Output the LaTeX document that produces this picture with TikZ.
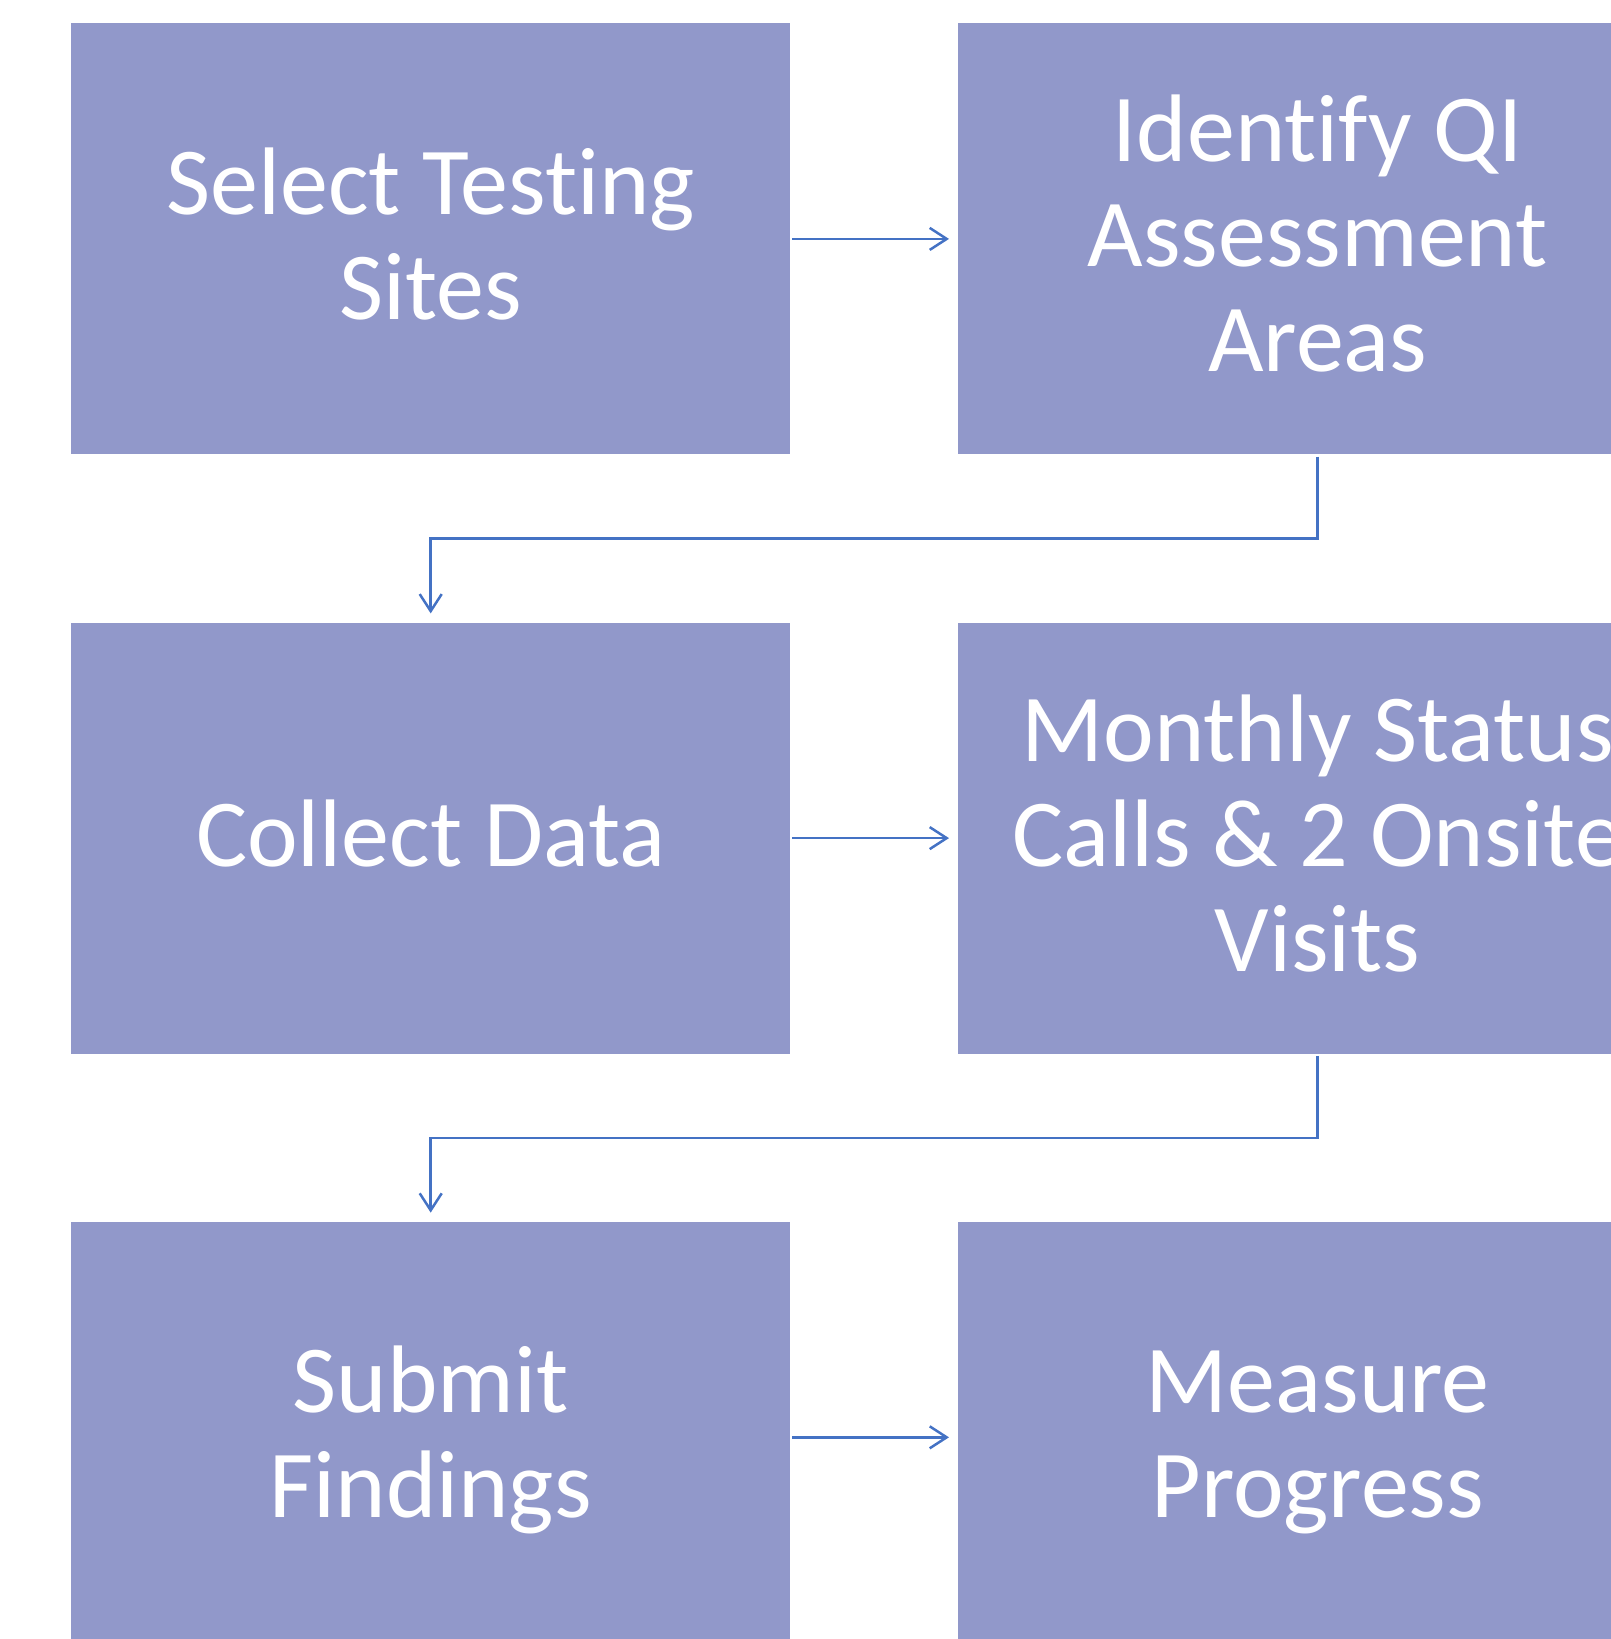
\documentclass[tikz,border=0pt]{standalone}
\usepackage{fontspec}
\setmainfont{Carlito}[Ligatures=NoCommon]
\usetikzlibrary{arrows.meta,matrix}

\definecolor{stagefill}{RGB}{145,152,202}
\definecolor{flowblue}{RGB}{68,114,196}
% fixed line box, so every box centres its lines the same way
\newcommand{\ls}{\rule[-24.5pt]{0pt}{105pt}}

\begin{document}
\begin{tikzpicture}[x=1pt,y=1pt]
    % `stage' is used for the six purple boxes.
    % `flow' is used for every connector between them.
    \tikzstyle{stage} = [fill=stagefill,text=white,minimum width=719pt,minimum height=431pt,inner sep=0pt,align=center,font=\fontsize{96}{105}\selectfont,execute at end node=\ls]
    \tikzstyle{flow} = [flowblue,line width=2.5pt,-{Straight Barb[length=17pt,width=22pt]},shorten <=2pt,shorten >=9pt]
    %
    \useasboundingbox (0,0) rectangle (1611,-1639);
    \clip (0,0) rectangle (1611,-1639);
    \matrix[row sep=168pt, column sep=168pt, inner sep=0pt, anchor=north west] (flowchart) at (71,-23) {
      \node[stage] (select) {\ls Select Testing\\Sites}; &
      \node[stage] (identify) {\ls Identify QI\\Assessment\\Areas}; \\

      \node[stage] (collect) {\ls Collect Data}; &
      \node[stage] (status) {\ls Monthly Status\\Calls \& 2 Onsite\\Visits}; \\

      \node[stage] (submit) {\ls Submit\\Findings}; &
      \node[stage] (measure) {\ls Measure\\Progress}; \\
    };
    % Draw connectors.
    \draw[flow] (select) -- (identify);
    \draw[flow] (identify.south) -- ++(0,-84) -| (collect.north);
    \draw[flow] (collect) -- (status);
    \draw[flow] (status.south) -- ++(0,-84) -| (submit.north);
    \draw[flow] (submit) -- (measure);
\end{tikzpicture}
\end{document}
